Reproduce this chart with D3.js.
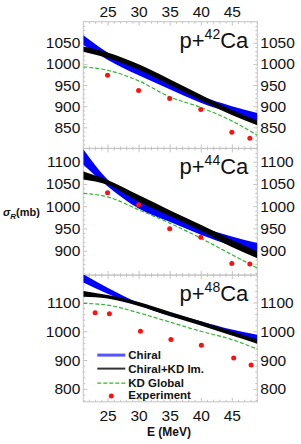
<!DOCTYPE html>
<html>
<head>
<meta charset="utf-8">
<script src="https://cdn.jsdelivr.net/npm/d3@7"></script>
<style>
  body { margin: 0; background: #fff; }
  svg text { font-family: "Liberation Sans", Arial, sans-serif; }
</style>
</head>
<body>
<div id="chart"></div>
<script>
const energyGrid = [21.1, 25, 30, 35, 40, 45, 49.1];

// p+42Ca
const chiral42Lo = [1045, 1010, 973, 940, 908, 883, 865];
const chiral42Hi = [1068, 1027, 989, 957, 924, 900, 884];
const kdIm42Lo = [1029, 1014, 986, 950, 914, 879, 855];
const kdIm42Hi = [1041, 1027, 999, 964, 927, 891, 866];
const kdGlobal42 = [993, 985, 960, 922, 897, 865, 831];
const expE42 = [25, 30, 35, 40, 45, 47.9];
const expSig42 = [973, 937, 918, 892, 838, 824];

// p+44Ca
const chiral44Lo = [1093, 1045, 995, 965, 936, 911, 895];
const chiral44Hi = [1128, 1060, 1013, 982, 953, 932, 917];
const kdIm44Lo = [1060, 1048, 1010, 978, 945, 908, 883];
const kdIm44Hi = [1078, 1059, 1025, 991, 958, 924, 898];
const kdGlobal44 = [1029, 1021, 992, 962, 928, 891, 861];
const expE44 = [25, 30, 35, 40, 45, 47.9];
const expSig44 = [1030, 1003, 949, 930, 871, 870];

// p+48Ca
const chiral48Lo = [1169, 1130, 1090, 1053, 1026, 988, 967];
const chiral48Hi = [1198, 1151, 1099, 1064, 1035, 1006, 988];
const kdIm48Lo = [1120, 1114, 1088, 1053, 1020, 985, 957];
const kdIm48Hi = [1140, 1126, 1102, 1068, 1035, 1000, 971];
const kdGlobal48 = [1097, 1091, 1064, 1032, 1000, 971, 938];
const expE48 = [23, 25.3, 30.3, 35.2, 40.1, 45.3, 48.1];
const expSig48 = [1064, 1061, 1000, 971, 951, 907, 883];

const xTicks = [25, 30, 35, 40, 45];
const yTicks42 = [850, 900, 950, 1000, 1050];
const yTicks44 = [900, 950, 1000, 1050, 1100];
const yTicks48 = [800, 900, 1000, 1100];
const yRange42 = [800, 1100];
const yRange44 = [845, 1130];
const yRange48 = [755, 1195];

const legendLabels = ["Chiral", "Chiral+KD Im.", "KD Global", "Experiment"];

const panels = [
    {mass: "42", lo: chiral42Lo, hi: chiral42Hi, kLo: kdIm42Lo, kHi: kdIm42Hi, kd: kdGlobal42, eE: expE42, eS: expSig42, ticks: yTicks42, range: yRange42, step: 10},
    {mass: "44", lo: chiral44Lo, hi: chiral44Hi, kLo: kdIm44Lo, kHi: kdIm44Hi, kd: kdGlobal44, eE: expE44, eS: expSig44, ticks: yTicks44, range: yRange44, step: 10},
    {mass: "48", lo: chiral48Lo, hi: chiral48Hi, kLo: kdIm48Lo, kHi: kdIm48Hi, kd: kdGlobal48, eE: expE48, eS: expSig48, ticks: yTicks48, range: yRange48, step: 20}
];

const W = 301, H = 444;
const frameLeft = 83.3, frameRight = 257.3, frameTop = 21.7, panelH = 126.7;
const frameColor = "#c4c4c4";

const svg = d3.select("#chart")
    .append("svg")
    .attr("width", W)
    .attr("height", H);

const x = d3.scaleLinear().domain([21.1, 49.1]).range([0, frameRight - frameLeft]);
const xMinor = d3.range(22, 50, 1).filter(e => e % 5 != 0);

const defs = svg.append("defs");

const styleAxis = (g) => {
    g.select(".domain").remove();
    g.selectAll(".tick line").attr("stroke", frameColor);
    g.selectAll(".tick text")
        .attr("fill", "#111")
        .style("font-size", "15.5px")
        .style("font-family", "'Liberation Sans', Arial, sans-serif");
};

panels.forEach((p, i) => {
    const y0 = frameTop + i * panelH;
    const pw = frameRight - frameLeft;
    const y = d3.scaleLinear().domain(p.range).range([panelH, 0]);
    const g = svg.append("g").attr("transform", `translate(${frameLeft},${y0})`);

    defs.append("clipPath").attr("id", "clip" + i)
        .append("rect")
        .attr("width", pw)
        .attr("height", panelH);

    const yMinor = d3.range(Math.ceil(p.range[0] / p.step) * p.step, p.range[1], p.step)
        .filter(v => !p.ticks.includes(v));

    // minor ticks
    g.append("g").call(d3.axisLeft(y).tickValues(yMinor).tickSize(-2).tickFormat("")).call(styleAxis);
    g.append("g").attr("transform", `translate(${pw},0)`)
        .call(d3.axisRight(y).tickValues(yMinor).tickSize(-2).tickFormat("")).call(styleAxis);
    g.append("g").call(d3.axisTop(x).tickValues(xMinor).tickSize(-2).tickFormat("")).call(styleAxis);
    g.append("g").attr("transform", `translate(0,${panelH})`)
        .call(d3.axisBottom(x).tickValues(xMinor).tickSize(-2).tickFormat("")).call(styleAxis);

    // major ticks with labels
    g.append("g").call(d3.axisLeft(y).tickValues(p.ticks).tickSize(-4).tickPadding(3).tickFormat(d3.format("d"))).call(styleAxis);
    g.append("g").attr("transform", `translate(${pw},0)`)
        .call(d3.axisRight(y).tickValues(p.ticks).tickSize(-4).tickPadding(3).tickFormat(d3.format("d"))).call(styleAxis);
    g.append("g")
        .call(d3.axisTop(x).tickValues(xTicks).tickSize(-4).tickPadding(5).tickFormat(i == 0 ? d3.format("d") : ""))
        .call(styleAxis);
    g.append("g").attr("transform", `translate(0,${panelH})`)
        .call(d3.axisBottom(x).tickValues(xTicks).tickSize(-4).tickPadding(8).tickFormat(i == 2 ? d3.format("d") : ""))
        .call(styleAxis);

    g.append("rect")
        .attr("width", pw)
        .attr("height", panelH)
        .attr("fill", "none")
        .attr("stroke", frameColor)
        .attr("stroke-width", 1);

    const plot = g.append("g").attr("clip-path", `url(#clip${i})`);

    const band = (lo, hi) => d3.area()
        .x((d, j) => x(energyGrid[j]))
        .y0((d, j) => y(lo[j]))
        .y1((d, j) => y(hi[j]))
        .curve(d3.curveMonotoneX)(energyGrid);

    plot.append("path").attr("d", band(p.lo, p.hi)).attr("fill", "#0000ff");
    plot.append("path").attr("d", band(p.kLo, p.kHi)).attr("fill", "#000");

    plot.append("path")
        .datum(p.kd)
        .attr("d", d3.line().x((d, j) => x(energyGrid[j])).y(d => y(d)).curve(d3.curveMonotoneX))
        .attr("fill", "none")
        .attr("stroke", "#2fb52f")
        .attr("stroke-width", 1.2)
        .attr("stroke-dasharray", "4,2");

    plot.selectAll("circle")
        .data(p.eE)
        .join("circle")
        .attr("cx", d => x(d))
        .attr("cy", (d, j) => y(p.eS[j]))
        .attr("r", 2.5)
        .attr("fill", "#ff1010");

    const label = g.append("text")
        .attr("x", 165)
        .attr("y", 26)
        .attr("text-anchor", "end")
        .style("font-size", "22px")
        .attr("fill", "#111");
    label.append("tspan").text("p+");
    label.append("tspan").attr("dy", -9).style("font-size", "14px").text(p.mass);
    label.append("tspan").attr("dy", 9).text("Ca");

    if (i == 2) {
        const legend = g.append("g").attr("transform", "translate(14,0)");
        const rows = [80, 93.5, 108, 121];
        const strokes = [
            {c: "#5555ff", w: 3, dash: null},
            {c: "#333", w: 2, dash: null},
            {c: "#2fb52f", w: 1.3, dash: "4,2"}
        ];
        strokes.forEach((s, j) => {
            legend.append("line")
                .attr("x1", 0).attr("x2", 28)
                .attr("y1", rows[j]).attr("y2", rows[j])
                .attr("stroke", s.c)
                .attr("stroke-width", s.w)
                .attr("stroke-dasharray", s.dash);
        });
        legend.append("circle").attr("cx", 14).attr("cy", rows[3]).attr("r", 2.5).attr("fill", "#ff1010");
        legend.selectAll("text.leg")
            .data(legendLabels)
            .join("text")
            .attr("class", "leg")
            .attr("x", 31)
            .attr("y", (d, j) => rows[j] + 4 - (j == 3 ? 1.5 : 0))
            .style("font-size", "11.5px")
            .style("font-weight", "bold")
            .attr("fill", "#111")
            .text(d => d);
    }
});

// axis titles
svg.append("text")
    .attr("x", 169)
    .attr("y", 436)
    .attr("text-anchor", "middle")
    .style("font-size", "12px")
    .style("font-weight", "bold")
    .attr("fill", "#111")
    .text("E (MeV)");

const yTitle = svg.append("text")
    .attr("x", 3)
    .attr("y", 216)
    .style("font-size", "11px")
    .style("font-weight", "bold")
    .attr("fill", "#111");
yTitle.append("tspan").style("font-style", "italic").text("σ");
yTitle.append("tspan").attr("dy", 3).style("font-size", "8px").style("font-style", "italic").text("R");
yTitle.append("tspan").attr("dy", -3).text("(mb)");
</script>
</body>
</html>
